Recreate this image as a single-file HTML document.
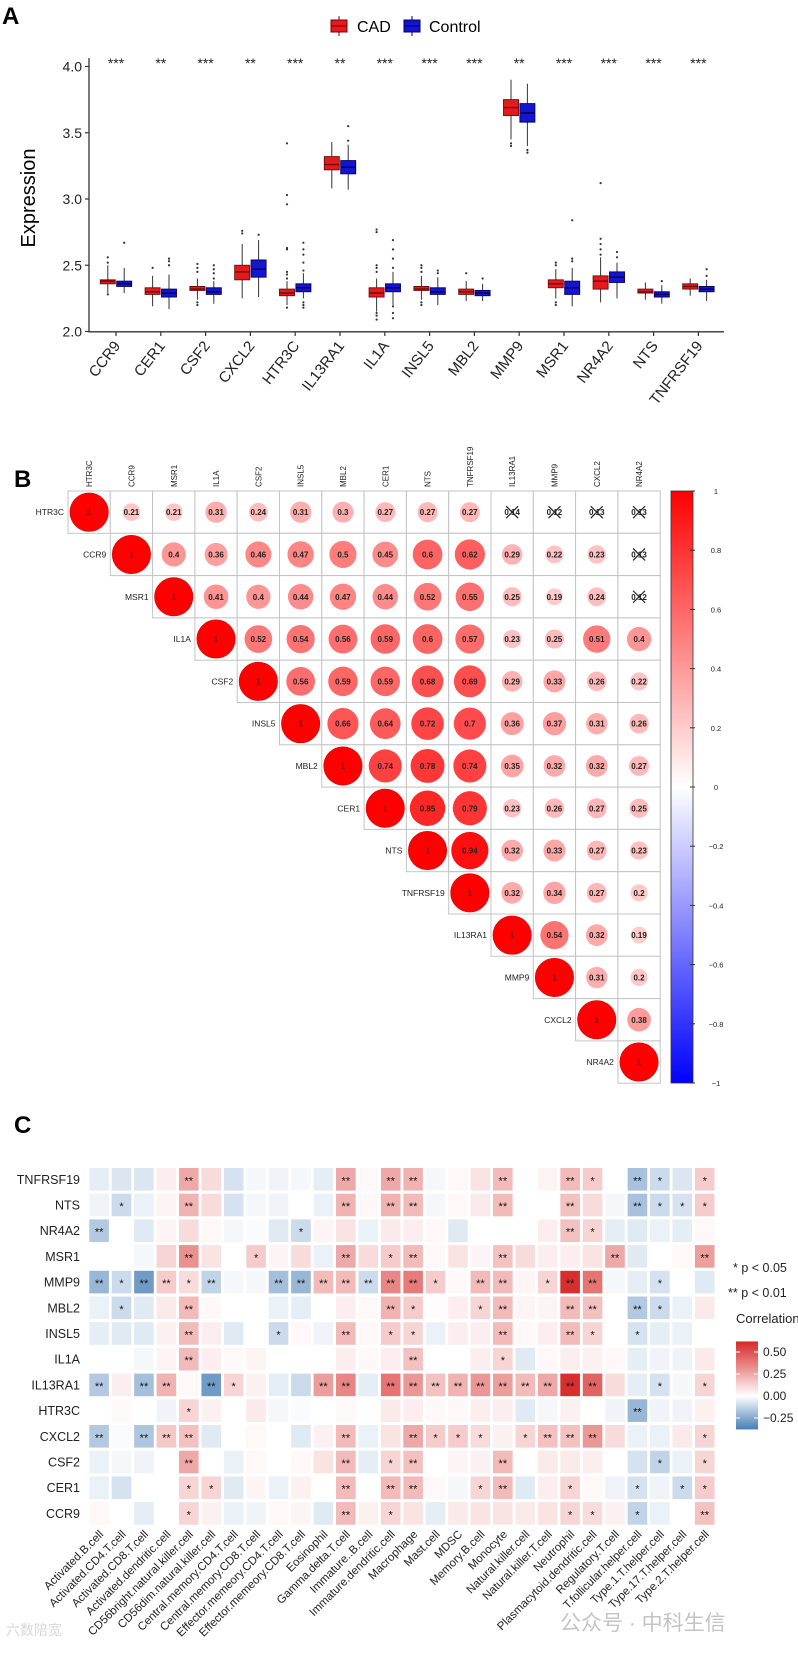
<!DOCTYPE html>
<html><head><meta charset="utf-8"><title>Figure A-B-C</title>
<style>
html,body{margin:0;padding:0;background:#fff;}
svg{display:block;font-family:"Liberation Sans","Noto Sans CJK SC",sans-serif;}
</style></head>
<body>
<svg id="fig" width="798" height="1653" viewBox="0 0 798 1653" xmlns="http://www.w3.org/2000/svg">
  <rect width="798" height="1653" fill="#fff"/>
  <text x="2" y="24" font-size="24" font-weight="bold">A</text>
  <text x="14" y="487" font-size="24" font-weight="bold">B</text>
  <text x="14" y="1133" font-size="24" font-weight="bold">C</text>
  <g id="panelA"></g>
  <g id="panelB"></g>
  <g id="panelC"></g>
  <text x="560" y="1630" font-size="21" fill="#c4c4c4">公众号 · 中科生信</text>
  <text x="6" y="1635" font-size="14" fill="#d8d8d8">六数陪宽</text>
</svg>
<script>
// ---------- Panel A data ----------
const genesA = ["CCR9","CER1","CSF2","CXCL2","HTR3C","IL13RA1","IL1A","INSL5","MBL2","MMP9","MSR1","NR4A2","NTS","TNFRSF19"];
const starsA = ["***","**","***","**","***","**","***","***","***","**","***","***","***","***"];
const yTicksA = [2.0,2.5,3.0,3.5,4.0];
const cadQ1  = [2.36,2.28,2.31,2.39,2.27,3.22,2.26,2.31,2.28,3.63,2.33,2.32,2.29,2.32];
const cadMed = [2.38,2.30,2.32,2.45,2.29,3.26,2.29,2.32,2.30,3.69,2.36,2.38,2.30,2.34];
const cadQ3  = [2.39,2.33,2.34,2.50,2.32,3.32,2.33,2.34,2.32,3.75,2.39,2.42,2.32,2.36];
const cadLo  = [2.29,2.19,2.24,2.25,2.20,3.08,2.15,2.24,2.23,3.45,2.25,2.22,2.24,2.27];
const cadHi  = [2.50,2.42,2.40,2.66,2.38,3.43,2.40,2.42,2.38,3.90,2.47,2.56,2.37,2.40];
const cadOut = [[2.28,2.52,2.56],[2.48],[2.20,2.22,2.45,2.48,2.51],[2.74,2.76],[2.18,2.40,2.43,2.45,2.62,2.63,2.96,3.03,3.42],[],[2.09,2.12,2.14,2.45,2.48,2.50,2.75,2.77],[2.20,2.22,2.45,2.48,2.50],[2.44],[3.40,3.42],[2.20,2.22,2.50,2.52],[2.58,2.62,2.66,2.70,3.12],[],[]];
const ctlQ1  = [2.34,2.26,2.28,2.41,2.30,3.19,2.30,2.28,2.27,3.58,2.28,2.37,2.26,2.30];
const ctlMed = [2.36,2.29,2.30,2.47,2.33,3.24,2.33,2.30,2.29,3.65,2.33,2.41,2.28,2.32];
const ctlQ3  = [2.38,2.32,2.33,2.54,2.36,3.29,2.36,2.33,2.31,3.72,2.38,2.45,2.30,2.34];
const ctlLo  = [2.29,2.17,2.21,2.26,2.25,3.07,2.20,2.20,2.23,3.40,2.19,2.25,2.21,2.23];
const ctlHi  = [2.48,2.43,2.38,2.69,2.44,3.41,2.45,2.41,2.36,3.87,2.48,2.52,2.35,2.39];
const ctlOut = [[2.67],[2.50,2.53,2.55],[2.40,2.44,2.47,2.50],[2.73],[2.18,2.20,2.22,2.46,2.52,2.58,2.62,2.67],[3.44,3.55],[2.10,2.14,2.19,2.48,2.55,2.62,2.69],[2.44,2.46],[2.40],[3.35,3.37],[2.53,2.55,2.84],[2.56,2.60],[2.38],[2.42,2.47]];

// ---------- Panel B data ----------
const genesB = ["HTR3C","CCR9","MSR1","IL1A","CSF2","INSL5","MBL2","CER1","NTS","TNFRSF19","IL13RA1","MMP9","CXCL2","NR4A2"];
const corrB = [
 [1,.21,.21,.31,.24,.31,.3,.27,.27,.27,.14,.12,.13,.13],
 [1,.4,.36,.46,.47,.5,.45,.6,.62,.29,.22,.23,.13],
 [1,.41,.4,.44,.47,.44,.52,.55,.25,.19,.24,.12],
 [1,.52,.54,.56,.59,.6,.57,.23,.25,.51,.4],
 [1,.56,.59,.59,.68,.69,.29,.33,.26,.22],
 [1,.66,.64,.72,.7,.36,.37,.31,.26],
 [1,.74,.78,.74,.35,.32,.32,.27],
 [1,.85,.79,.23,.26,.27,.25],
 [1,.94,.32,.33,.27,.23],
 [1,.32,.34,.27,.2],
 [1,.54,.32,.19],
 [1,.31,.2],
 [1,.38],
 [1]
];
const insigB = [
 [0,0,0,0,0,0,0,0,0,0,1,1,1,1],
 [0,0,0,0,0,0,0,0,0,0,0,0,1],
 [0,0,0,0,0,0,0,0,0,0,0,1],
 [0,0,0,0,0,0,0,0,0,0,0],[0,0,0,0,0,0,0,0,0,0],[0,0,0,0,0,0,0,0,0],[0,0,0,0,0,0,0,0],
 [0,0,0,0,0,0,0],[0,0,0,0,0,0],[0,0,0,0,0],[0,0,0,0],[0,0,0],[0,0],[0]
];
const cbTicksB = [1,0.8,0.6,0.4,0.2,0,-0.2,-0.4,-0.6,-0.8,-1];

// ---------- Panel C data ----------
const cellsC = ["Activated.B.cell","Activated.CD4.T.cell","Activated.CD8.T.cell","Activated.dendritic.cell","CD56bright.natural.killer.cell","CD56dim.natural.killer.cell","Central.memory.CD4.T.cell","Central.memory.CD8.T.cell","Effector.memeory.CD4.T.cell","Effector.memeory.CD8.T.cell","Eosinophil","Gamma.delta.T.cell","Immature..B.cell","Immature.dendritic.cell","Macrophage","Mast.cell","MDSC","Memory.B.cell","Monocyte","Natural.killer.cell","Natural.killer.T.cell","Neutrophil","Plasmacytoid.dendritic.cell","Regulatory.T.cell","T.follicular.helper.cell","Type.1.T.helper.cell","Type.17.T.helper.cell","Type.2.T.helper.cell"];
const genesC = ["TNFRSF19","NTS","NR4A2","MSR1","MMP9","MBL2","INSL5","IL1A","IL13RA1","HTR3C","CXCL2","CSF2","CER1","CCR9"];
const valsC = [
 [-.05,-.07,-.07,.05,.25,.1,-.08,-.02,-.03,-.02,-.05,.25,.02,.25, .22,-.02,.02,.08,.2,0,.03,.2,.15,0,-.17,-.1,-.07,.15],
 [-.03,-.1,-.04,.03,.22,.1,-.08,-.02,-.03,0,-.04,.22,.02,.22, .2,-.02,.02,.06,.2,0,0,.18,.1,-.02,-.17,-.1,-.08,.15],
 [-.15,0,-.06,.03,.1,.02,-.02,-.01,-.06,-.1,.03,.08,-.04,.06, .05,.02,-.06,0,0,0,.05,.18,.12,-.05,-.06,-.04,-.05,.02],
 [0,0,-.02,.12,.32,.08,0,.15,.03,.1,-.04,.25,.1,.15, .2,.02,.08,.03,.18,.1,.05,.05,.08,.25,-.06,0,.02,.28],
 [-.2,-.1,-.28,.15,.1,-.12,-.02,-.02,-.18,-.2,.2,.2,-.1,.35, .38,.15,.02,.2,.2,.03,.12,.6,.4,-.02,-.05,-.08,0,-.06],
 [-.04,-.1,-.06,.06,.2,.02,0,0,-.04,-.05,0,.05,.02,.22, .15,.01,.05,.12,.2,.03,.03,.2,.18,0,-.15,-.1,-.04,.06],
 [-.05,-.06,-.06,.04,.2,.05,-.06,0,-.1,.02,-.03,.2,.02,.15, .12,-.04,.05,.05,.2,.02,.05,.2,.12,0,-.08,-.05,-.04,0],
 [0,0,-.02,.03,.2,.05,.02,.03,0,0,0,.05,.02,.05, .18,0,0,.05,.12,-.06,.02,.05,.04,.02,-.05,-.03,-.03,.06],
 [-.15,.05,-.18,.22,.02,-.28,.12,.04,-.05,-.1,.28,.35,-.05,.4, .3,.18,.22,.3,.28,.2,.25,.6,.45,.1,-.05,-.08,-.02,.12],
 [0,.02,0,-.03,.12,.04,0,.06,-.02,-.01,0,.02,0,.06, .05,.02,.02,.05,.05,-.06,-.02,.04,0,-.03,-.2,-.03,-.03,.04],
 [-.15,-.01,-.16,.16,.18,-.06,0,.02,0,-.06,.04,.2,-.04,.08, .25,.15,.15,.1,.04,.12,.18,.18,.3,.1,-.04,-.04,.06,.12],
 [-.04,-.02,-.03,0,.25,0,-.04,.02,0,.02,.08,.2,-.05,.12, .18,0,.03,.04,.2,0,.06,.06,.05,0,-.08,-.12,-.04,.12],
 [-.04,-.08,0,0,.12,.12,-.06,.03,-.04,.04,0,.2,0,.2, .2,.02,-.02,.12,.2,-.06,.05,.12,.02,-.03,-.08,-.03,-.1,.15],
 [.02,0,-.05,0,.12,.04,-.04,-.03,.02,.03,-.06,.2,.04,.12, .08,-.05,.06,.08,.08,.06,.08,.12,.1,.04,-.12,-.04,0,.18]
];
const sigC = [
 "0000200"+"0000202"+"2000200"+"2102101",
 "0100200"+"0000202"+"2000200"+"2002111",
 "2000000"+"0010000"+"0000000"+"2100000",
 "0000200"+"1000201"+"2000200"+"0020002",
 "2122120"+"0222222"+"2102201"+"2200100",
 "0100200"+"0000002"+"1001200"+"2202100",
 "0000200"+"0100201"+"1000200"+"2101000",
 "0000200"+"0000000"+"2000100"+"0000000",
 "2022021"+"0002202"+"2222222"+"2200101",
 "0000100"+"0000000"+"0000000"+"0002000",
 "2022200"+"0000200"+"2111012"+"2200001",
 "0000200"+"0000201"+"2000200"+"0000101",
 "0000110"+"0000202"+"2001200"+"1001011",
 "0000100"+"0000201"+"0000000"+"1101002"
];
const cbTicksC = [0.5,0.25,0,-0.25];
const cbTickLabelsC = ["0.50","0.25","0.00","\u22120.25"];

const NS = "http://www.w3.org/2000/svg";
function mk(parent, tag, attrs, txt){
  const e = document.createElementNS(NS, tag);
  for (const k in attrs) e.setAttribute(k, attrs[k]);
  if (txt !== undefined) e.textContent = txt;
  parent.appendChild(e);
  return e;
}

// ================= Panel A =================
(function(){
  const g = document.getElementById('panelA');
  const x0 = 116, dx = 44.8;
  const xA = i => x0 + i*dx;
  const yA = v => 331.5 - (v-2)*132.5;
  const bw = 15, off = 8.2;
  // legend
  const lg = mk(g,'g',{});
  
  
  const k1 = mk(lg,'rect',{x:331,y:20,width:16,height:12,fill:'#e41a1c',stroke:'#7a0000','stroke-width':1});
  
  
  mk(lg,'line',{x1:331,x2:347,y1:26,y2:26,stroke:'#7a0000'});
  mk(lg,'line',{x1:339,x2:339,y1:16,y2:20,stroke:'#7a0000'});
  mk(lg,'line',{x1:339,x2:339,y1:32,y2:36,stroke:'#7a0000'});
  const t1 = mk(lg,'text',{x:357,y:32,'font-size':16},'CAD');
  
  
  const k2 = mk(lg,'rect',{x:404,y:20,width:16,height:12,fill:'#1515d0',stroke:'#00006e','stroke-width':1});
  
  
  mk(lg,'line',{x1:404,x2:420,y1:26,y2:26,stroke:'#00006e'});
  mk(lg,'line',{x1:412,x2:412,y1:16,y2:20,stroke:'#00006e'});
  mk(lg,'line',{x1:412,x2:412,y1:32,y2:36,stroke:'#00006e'});
  const t2 = mk(lg,'text',{x:429,y:32,'font-size':16},'Control');
  
  

  // axes
  const ax = mk(g,'line',{x1:89,x2:89,y1:58,y2:332,stroke:'#333','stroke-width':1.3});
  
  
  const axx = mk(g,'line',{x1:88.5,x2:724,y1:331.8,y2:331.8,stroke:'#333','stroke-width':1.3});
  
  
  yTicksA.forEach(v=>{
    mk(g,'line',{x1:85,x2:89,y1:yA(v),y2:yA(v),stroke:'#333','stroke-width':1.2});
    const t = mk(g,'text',{x:82,y:yA(v)+5,'font-size':14,'text-anchor':'end',fill:'#222'},v.toFixed(1));
    
    
  });
  const yt = mk(g,'text',{x:0,y:0,'font-size':20,'text-anchor':'middle',transform:'translate(35,198) rotate(-90)'},'Expression');
  
  

  function drawBox(cx, q1, med, q3, lo, hi, outs, fill, stroke, nm){
    const bg = mk(g,'g',{});
    
    
    mk(bg,'line',{x1:cx,x2:cx,y1:yA(hi),y2:yA(q3),stroke:'#333','stroke-width':1});
    mk(bg,'line',{x1:cx,x2:cx,y1:yA(q1),y2:yA(lo),stroke:'#333','stroke-width':1});
    mk(bg,'rect',{x:cx-bw/2,y:yA(q3),width:bw,height:Math.max(1,yA(q1)-yA(q3)),fill:fill,stroke:stroke,'stroke-width':0.9});
    mk(bg,'line',{x1:cx-bw/2,x2:cx+bw/2,y1:yA(med),y2:yA(med),stroke:stroke,'stroke-width':1.4});
    outs.forEach(o=>mk(bg,'circle',{cx:cx,cy:yA(o),r:1.1,fill:'#333'}));
  }
  genesA.forEach((gn,i)=>{
    const cx = xA(i);
    drawBox(cx-off, cadQ1[i], cadMed[i], cadQ3[i], cadLo[i], cadHi[i], cadOut[i], '#e41a1c', '#6e0a0a', 'box-cad-'+gn.toLowerCase());
    drawBox(cx+off, ctlQ1[i], ctlMed[i], ctlQ3[i], ctlLo[i], ctlHi[i], ctlOut[i], '#1515d0', '#00005e', 'box-control-'+gn.toLowerCase());
    mk(g,'line',{x1:cx,x2:cx,y1:332,y2:336,stroke:'#333','stroke-width':1.2});
    const xl = mk(g,'text',{x:0,y:0,'font-size':15,'text-anchor':'end',fill:'#222',transform:`translate(${cx+5},${346}) rotate(-52)`},gn);
    
    
    const st = mk(g,'text',{x:cx,y:68,'font-size':14,'text-anchor':'middle',fill:'#222'},starsA[i]);
    
    
  });
})();

// ================= Panel B =================
(function(){
  const g = document.getElementById('panelB');
  const ox = 68, oy = 491, s = 42.3, n = genesB.length;
  const maxR = 19.2;
  function col(r){
    const a = Math.abs(r);
    if (r >= 0) { const c = Math.round(250*(1-a)); return `rgb(255,${c},${c})`; }
    const c = Math.round(250*(1-a)); return `rgb(${c},${c},255)`;
  }
  for (let i=0;i<n;i++){
    for (let k=0;k<corrB[i].length;k++){
      const j = i + k;
      const r = corrB[i][k];
      const x = ox + j*s, y = oy + i*s;
      const cell = mk(g,'g',{});
      
      
      mk(cell,'rect',{x:x,y:y,width:s,height:s,fill:'#fff',stroke:'#c4c4c4','stroke-width':1});
      const cx = x+s/2, cy = y+s/2;
      if (!insigB[i][k]) {
        mk(cell,'circle',{cx:cx,cy:cy,r:maxR*Math.sqrt(Math.abs(r)),fill:col(r),stroke:r===1?'#d00':'none','stroke-width':0.6});
      }
      const lbl = (r===1) ? '1' : String(r).replace(/^0/,'0');
      mk(cell,'text',{x:cx,y:cy+3,'font-size':r===1?8:8,'font-weight':'bold','text-anchor':'middle',fill:r===1?'#7a0000':'#222'},lbl);
      if (insigB[i][k]) {
        mk(cell,'line',{x1:cx-6,y1:cy-6,x2:cx+6,y2:cy+6,stroke:'#222','stroke-width':1.2});
        mk(cell,'line',{x1:cx-6,y1:cy+6,x2:cx+6,y2:cy-6,stroke:'#222','stroke-width':1.2});
      }
    }
    const rl = mk(g,'text',{x:ox+i*s-4,y:oy+i*s+s/2+3,'font-size':8.5,'text-anchor':'end',fill:'#222'},genesB[i]);
    
    
    const cl = mk(g,'text',{x:0,y:0,'font-size':8,'text-anchor':'start',fill:'#222',transform:`translate(${ox+i*s+s/2+3},${oy-4}) rotate(-90)`},genesB[i]);
    
    
  }
  // colorbar
  const defs = mk(g,'defs',{});
  const lgd = mk(defs,'linearGradient',{id:'cbB',x1:0,y1:0,x2:0,y2:1});
  mk(lgd,'stop',{offset:'0%','stop-color':'#ff0000'});
  mk(lgd,'stop',{offset:'50%','stop-color':'#ffffff'});
  mk(lgd,'stop',{offset:'100%','stop-color':'#0000ff'});
  const top = 491, bot = 1083;
  const cb = mk(g,'rect',{x:671,y:top,width:22,height:bot-top,fill:'url(#cbB)',stroke:'#333','stroke-width':0.8});
  
  
  const yB = v => top + (1-v)/2*(bot-top);
  cbTicksB.forEach(v=>{
    mk(g,'line',{x1:690,x2:695,y1:yB(v),y2:yB(v),stroke:'#333','stroke-width':1});
    const t = mk(g,'text',{x:716,y:yB(v)+3,'font-size':7.5,'text-anchor':'middle',fill:'#222'},v===0?'0':(v<0?'\u2212'+Math.abs(v):String(v)));
    
    
  });
})();

// ================= Panel C =================
(function(){
  const g = document.getElementById('panelC');
  const ox = 89.3, oy = 1168, pw = 22.43, ph = 25.7, tw = 19.6, th = 22.6;
  function col(v){
    if (v >= 0){ const t = Math.min(1, v/0.62);
      return `rgb(${Math.round(255-t*(255-214))},${Math.round(255-t*(255-40))},${Math.round(255-t*(255-38))})`; }
    const t = Math.min(1, -v/0.36);
    return `rgb(${Math.round(255-t*(255-70))},${Math.round(255-t*(255-126))},${Math.round(255-t*(255-182))})`;
  }
  genesC.forEach((gn,i)=>{
    const rl = mk(g,'text',{x:80,y:oy+i*ph+th/2+4.5,'font-size':12.5,'text-anchor':'end',fill:'#222'},gn);
    
    
    cellsC.forEach((c,j)=>{
      const v = valsC[i][j];
      const x = ox + j*pw, y = oy + i*ph;
      const r = mk(g,'rect',{x:x,y:y,width:tw,height:th,fill:col(v)});
      
      
      const sg = +sigC[i][j];
      if (sg>0){
        mk(g,'text',{x:x+tw/2,y:y+th/2+5,'font-size':11,'text-anchor':'middle',fill:'#111'}, sg===2?'**':'*');
      }
    });
  });
  cellsC.forEach((c,j)=>{
    const cx = ox + j*pw + tw/2;
    const t = mk(g,'text',{x:0,y:0,'font-size':11.5,'text-anchor':'end',fill:'#222',transform:`translate(${cx+5},${1535}) rotate(-45)`},c);
    
    
  });
  // legend
  const l1 = mk(g,'text',{x:733,y:1272,'font-size':12.5,fill:'#222'},'* p < 0.05');
  
  
  const l2 = mk(g,'text',{x:728,y:1297,'font-size':12.5,fill:'#222'},'** p < 0.01');
  
  
  const l3 = mk(g,'text',{x:736,y:1323,'font-size':13,fill:'#222'},'Correlation');
  
  
  const yC = v => 1396 - v*88;
  const defs = mk(g,'defs',{});
  const lgd = mk(defs,'linearGradient',{id:'cbC',x1:0,y1:0,x2:0,y2:1});
  const vTop = 0.62, vBot = -0.38;
  [[vTop,0],[0.25,(vTop-0.25)/(vTop-vBot)],[0,vTop/(vTop-vBot)],[vBot,1]].forEach(p=>{
    mk(lgd,'stop',{offset:(p[1]*100)+'%','stop-color':col(p[0])});
  });
  const cb = mk(g,'rect',{x:736,y:yC(vTop),width:22,height:yC(vBot)-yC(vTop),fill:'url(#cbC)'});
  
  
  cbTicksC.forEach((v,k)=>{
    mk(g,'line',{x1:736,x2:740,y1:yC(v),y2:yC(v),stroke:'#fff','stroke-width':1});
    mk(g,'line',{x1:754,x2:758,y1:yC(v),y2:yC(v),stroke:'#fff','stroke-width':1});
    const t = mk(g,'text',{x:763,y:yC(v)+4,'font-size':12,fill:'#222'},cbTickLabelsC[k]);
    
    
  });
})();
</script>
</body></html>
